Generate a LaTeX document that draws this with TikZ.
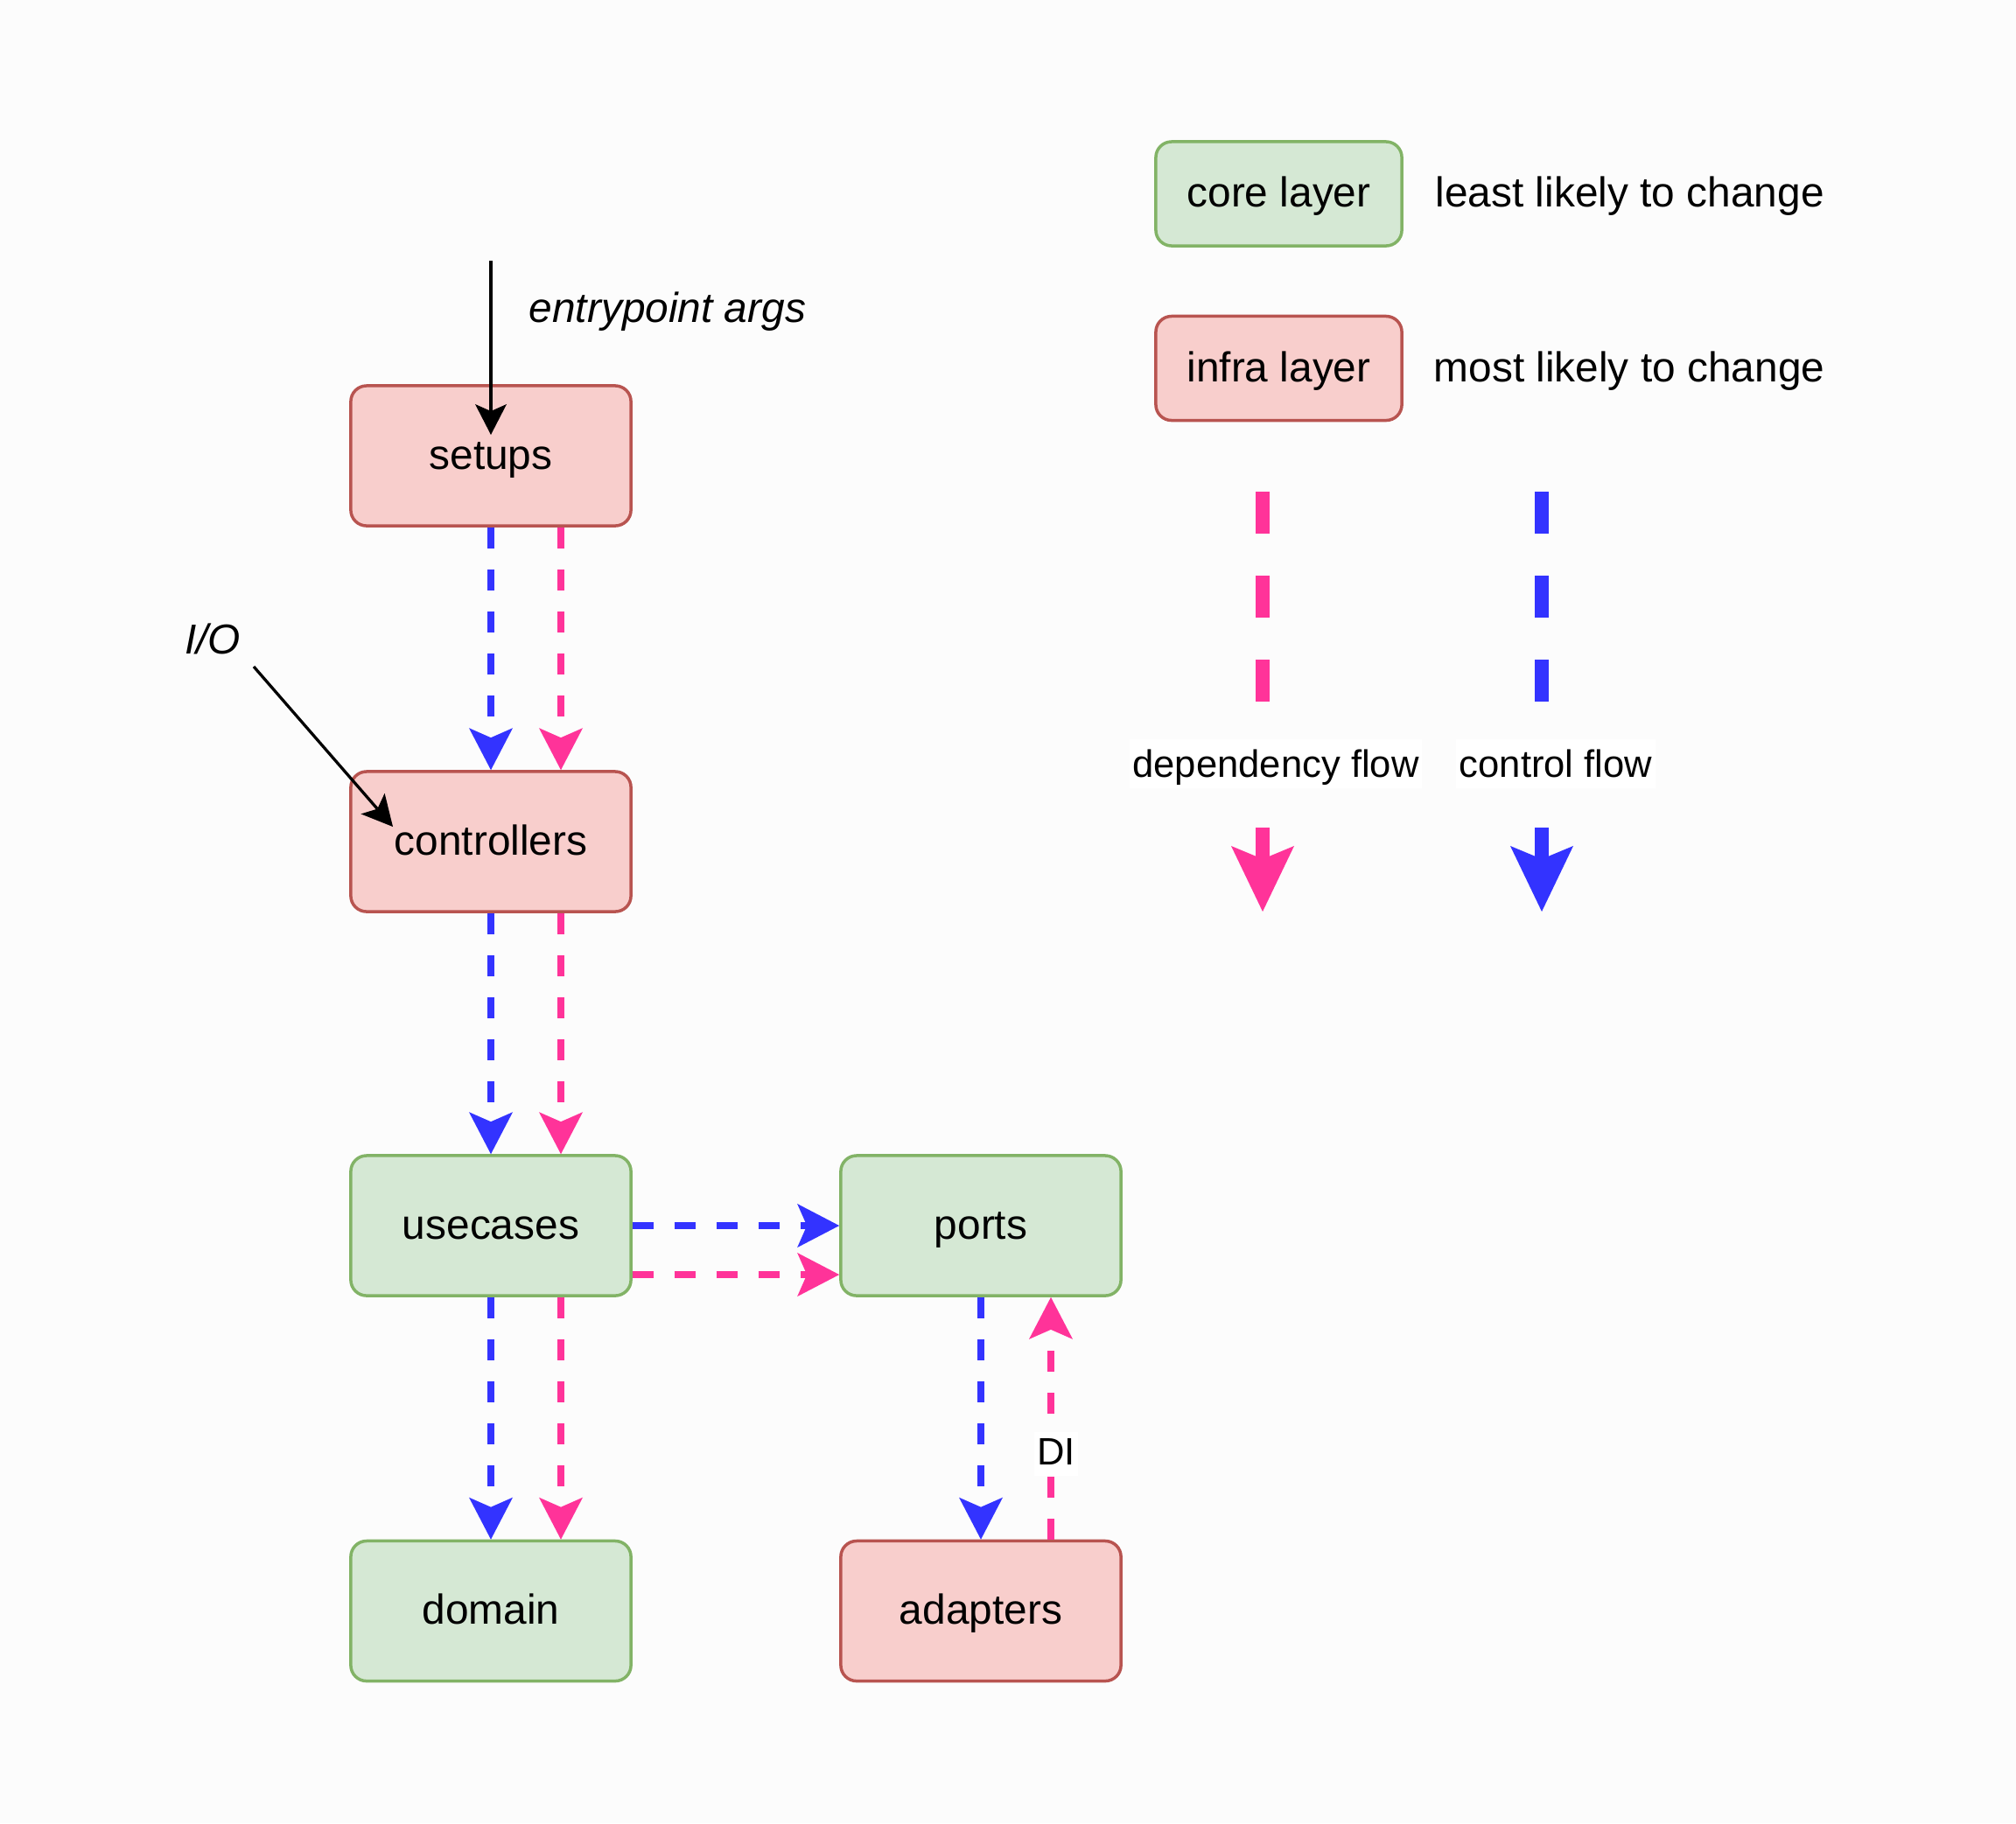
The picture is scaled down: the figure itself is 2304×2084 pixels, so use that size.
\documentclass[tikz,border=0pt]{standalone}
\usepackage{fontspec}
\setmainfont{Liberation Sans}
\usetikzlibrary{arrows.meta,calc}
\definecolor{bgc}{HTML}{FCFCFC}
\definecolor{pinkc}{HTML}{FF3399}
\definecolor{bluec}{HTML}{3333FF}
\definecolor{gfill}{HTML}{D5E8D4}
\definecolor{gdraw}{HTML}{82B366}
\definecolor{rfill}{HTML}{F8CECC}
\definecolor{rdraw}{HTML}{B85450}
\begin{document}
\begin{tikzpicture}[x=0.01cm,y=-0.01cm,
  box/.style={rectangle, rounded corners=0.18cm, line width=0.035cm, minimum width=3.2cm, minimum height=1.6cm, inner sep=0pt, text height=0.4cm, text depth=0.1cm, font=\fontsize{13.6}{16}\selectfont},
  corebox/.style={box, fill=gfill, draw=gdraw},
  infrabox/.style={box, fill=rfill, draw=rdraw},
  legbox/.style={minimum width=2.81cm, minimum height=1.19cm},
  flowline/.style={line width=0.08cm, dash pattern=on 0.24cm off 0.24cm, -{Stealth[length=0.48cm,width=0.5cm,inset=0.11cm,line width=0pt]}},
  ctrl/.style={flowline, color=bluec},
  dep/.style={flowline, color=pinkc},
  legline/.style={line width=0.16cm, dash pattern=on 0.48cm off 0.48cm, -{Stealth[length=0.75cm,width=0.72cm,inset=0.15cm,line width=0pt]}},
  blk/.style={line width=0.033cm, black, -{Stealth[length=0.35cm,width=0.36cm,inset=0.08cm,line width=0pt]}},
  txt/.style={inner sep=0pt, text height=0.4cm, text depth=0.1cm, font=\fontsize{13.6}{16}\selectfont},
  small/.style={inner xsep=1pt, inner ysep=0pt, fill=white, text height=0.37cm, text depth=0.13cm, font=\fontsize{12.4}{15}\selectfont},
  legsmall/.style={small, text height=0.43cm}
]
\useasboundingbox (0,0) rectangle (2304,2084);
\fill[bgc] (0,0) rectangle (2304,2084);

% main boxes
\node[infrabox] (setups) at (561,521) {setups};
\node[infrabox] (controllers) at (561,962) {controllers};
\node[corebox] (usecases) at (561,1401) {usecases};
\node[corebox] (domain) at (561,1841.5) {domain};
\node[corebox] (ports) at (1121,1401) {ports};
\node[infrabox] (adapters) at (1121,1841.5) {adapters};

% legend boxes
\node[corebox, legbox] (core) at (1461.5,221.5) {core layer};
\node[infrabox, legbox] (infra) at (1461.5,421) {infra layer};
\node[txt, anchor=west] (least) at (1640,221.5) {least likely to change};
\node[txt, anchor=west] (most) at (1638,421) {most likely to change};

% flows
\draw[ctrl] (setups.south) -- (controllers.north);
\draw[dep] ($(setups.south)+(80,0)$) -- ($(controllers.north)+(80,0)$);
\draw[ctrl] (controllers.south) -- (usecases.north);
\draw[dep] ($(controllers.south)+(80,0)$) -- ($(usecases.north)+(80,0)$);
\draw[ctrl] (usecases.south) -- (domain.north);
\draw[dep] ($(usecases.south)+(80,0)$) -- ($(domain.north)+(80,0)$);
\draw[ctrl] (usecases.east) -- (ports.west);
\draw[dep] ($(usecases.east)+(0,56)$) -- ($(ports.west)+(0,56)$);
\draw[ctrl] (ports.south) -- (adapters.north);
\draw[dep] ($(adapters.north)+(80,0)$) -- ($(ports.south)+(80,0)$);
\node[small] (di) at (1207,1662) {DI};

% entry arrows
\coordinate (eps) at (561,298);
\coordinate (ept) at (561,497);
\draw[blk] (eps) -- (ept);
\node[txt, anchor=west] (eargs) at (604,353) {\itshape entrypoint args};
\node[txt] (io) at (243,732) {\itshape I/O};
\coordinate (ios) at (290,762);
\coordinate (iot) at (449,945);
\draw[blk] (ios) -- (iot);

% legend flows
\coordinate (ld1) at (1443,562);
\coordinate (ld2) at (1443,1042);
\coordinate (lc1) at (1762,562);
\coordinate (lc2) at (1762,1042);
\draw[legline, color=pinkc] (ld1) -- (ld2);
\draw[legline, color=bluec] (lc1) -- (lc2);
\node[legsmall] (depl) at (1458,873) {dependency flow};
\node[legsmall] (ctll) at (1778,873) {control flow};
\end{tikzpicture}
\end{document}
